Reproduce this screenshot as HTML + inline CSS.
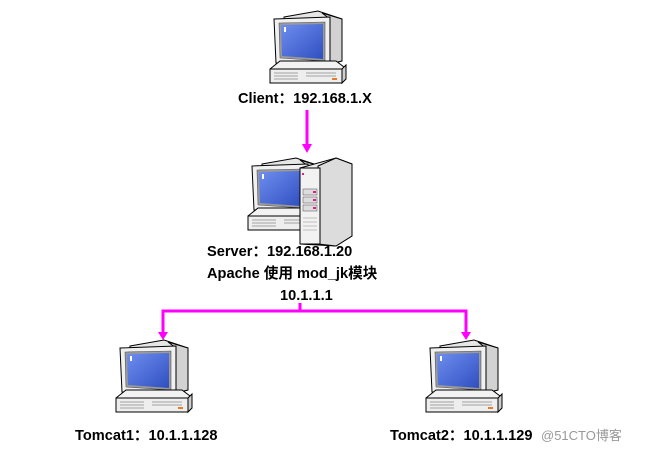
<!DOCTYPE html>
<html><head><meta charset="utf-8"><style>
html,body{margin:0;padding:0;background:#fff;}
svg{display:block}
text{font-family:"Liberation Sans","Noto Sans CJK SC",sans-serif;font-weight:bold;font-size:14.6px;fill:#000}
</style></head><body>
<svg width="650" height="453" viewBox="0 0 650 453" xmlns="http://www.w3.org/2000/svg">
<defs>
<linearGradient id="scr" x1="0" y1="0" x2="1" y2="1">
  <stop offset="0" stop-color="#6f8ef0"/>
  <stop offset="1" stop-color="#2f4fc0"/>
</linearGradient>
<g id="pc">
  <!-- monitor back -->
  <polygon points="14,6 48,0 72,8 72,50 56,54 14,54" fill="#e6e6e6" stroke="#000" stroke-width="1"/>
  <polygon points="52,2 72,8 72,50 60,53 60,8" fill="#d2d2d2" stroke="#000" stroke-width="1"/>
  <!-- front bezel -->
  <polygon points="4,8 60,6 60,56 6,52" fill="#f0f0f0" stroke="#000" stroke-width="1"/>
  <polygon points="9,12 55,11 55,50 10,47" fill="#9a9a9a" stroke="#555" stroke-width="0.6"/>
  <polygon points="11,14 53,13 53,48 12,45" fill="url(#scr)"/>
  <rect x="14" y="16" width="2" height="5" fill="#fff"/>
  <!-- base -->
  <polygon points="0,58 10,50 66,50 74,56 74,60 0,60" fill="#f2f2f2" stroke="#000" stroke-width="1"/>
  <rect x="0" y="58" width="72" height="14" fill="#eeeeee" stroke="#000" stroke-width="1"/>
  <polygon points="72,58 76,54 76,68 72,72" fill="#cfcfcf" stroke="#000" stroke-width="1"/>
  <g stroke="#888" stroke-width="0.8">
   <line x1="4" y1="62" x2="28" y2="62"/><line x1="4" y1="65" x2="28" y2="65"/><line x1="4" y1="68" x2="28" y2="68"/>
   <line x1="36" y1="62" x2="66" y2="62"/><line x1="36" y1="65" x2="66" y2="65"/>
  </g>
  <rect x="62" y="67" width="5" height="2" fill="#e87a2a"/>
</g>
</defs>

<!-- client -->
<use href="#pc" x="270" y="11"/>
<text x="238" y="103">Client：192.168.1.X</text>
<line x1="307" y1="110" x2="307" y2="146" stroke="#ff00ff" stroke-width="3"/>
<polygon points="302,144 312,144 307,153" fill="#ff00ff"/>

<!-- server -->
<use href="#pc" x="248" y="158"/>
<polygon points="300,168 336,158 352,164 352,236 336,246 300,244" fill="#ececec" stroke="#000" stroke-width="1"/>
<polygon points="336,158 352,164 352,236 336,246 318,244 318,166" fill="#dcdcdc" stroke="#000" stroke-width="1"/>
<rect x="300" y="168" width="20" height="76" fill="#f2f2f2" stroke="#000" stroke-width="1"/>
<rect x="303" y="189" width="14" height="6" fill="#ddd" stroke="#666" stroke-width="0.6"/>
<rect x="303" y="197" width="14" height="6" fill="#ddd" stroke="#666" stroke-width="0.6"/>
<rect x="303" y="205" width="14" height="6" fill="#ddd" stroke="#666" stroke-width="0.6"/>
<rect x="313" y="191" width="3" height="2" fill="#e0208a"/>
<rect x="313" y="199" width="3" height="2" fill="#e0208a"/>
<rect x="313" y="207" width="3" height="2" fill="#e0208a"/>
<rect x="302" y="173" width="2" height="2" fill="#e0208a"/>
<g stroke="#999" stroke-width="0.6">
<line x1="303" y1="218" x2="317" y2="218"/><line x1="303" y1="222" x2="317" y2="222"/><line x1="303" y1="226" x2="317" y2="226"/><line x1="303" y1="230" x2="317" y2="230"/>
</g>
<text x="207" y="256">Server：192.168.1.20</text>
<text x="207" y="278">Apache 使用 mod_jk模块</text>
<text x="280" y="300">10.1.1.1</text>

<!-- connectors -->
<g stroke="#ff00ff" stroke-width="3" fill="none">
<line x1="300" y1="303" x2="300" y2="311"/>
<polyline points="163,336 163,311 466,311 466,336"/>
</g>
<polygon points="158,332 168,332 163,340" fill="#ff00ff"/>
<polygon points="461,332 471,332 466,340" fill="#ff00ff"/>

<!-- tomcats -->
<use href="#pc" x="116" y="340"/>
<use href="#pc" x="426" y="340"/>
<text x="75" y="440">Tomcat1：10.1.1.128</text>
<text x="390" y="440">Tomcat2：10.1.1.129</text>
<text x="541" y="440" style="font-weight:normal;font-size:13px;fill:#999">@51CTO博客</text>
</svg>
</body></html>
